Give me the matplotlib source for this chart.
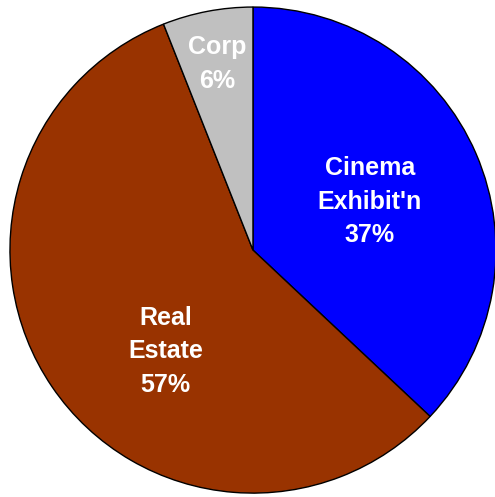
import numpy as np
import matplotlib.pyplot as plt

# dados
segments = ["Cinema\nExhibit'n", "Real\nEstate", "Corp"]
shares = [37, 57, 6]
colors = ["#0000FF", "#993300", "#C0C0C0"]
label_dist = [0.52, 0.55, 0.78]
label_angle_shift = [-1.0, 15.0, 0.0]

fig = plt.figure(figsize=(4.95, 4.97), dpi=100)
ax = fig.add_axes([0, 0, 1, 1])

wedges, _ = ax.pie(shares, colors=colors, startangle=90, counterclock=False,
                   radius=1.0, wedgeprops=dict(edgecolor="black", linewidth=1.0))

for w, name, pct, d, s in zip(wedges, segments, shares, label_dist, label_angle_shift):
    ang = np.deg2rad((w.theta1 + w.theta2) / 2 + s)
    ax.text(d * np.cos(ang), d * np.sin(ang), f"{name}\n{pct}%",
            ha="center", va="center", color="white", fontsize=18,
            fontweight="bold", family="Liberation Sans", linespacing=1.5)

ax.set_xlim(-1.041, 0.996)
ax.set_ylim(-1.016, 1.029)
ax.set_aspect("auto")
ax.axis("off")

fig.savefig("out.png", dpi=100)
